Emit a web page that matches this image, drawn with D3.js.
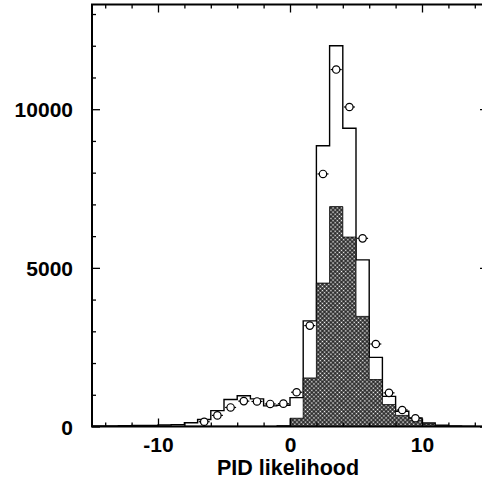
<!DOCTYPE html>
<html>
<head>
<meta charset="utf-8">
<script src="https://cdn.jsdelivr.net/npm/d3@7"></script>
<style>
  html, body { margin: 0; padding: 0; background: #fff; }
  svg { display: block; }
  text { font-family: "Liberation Sans", Arial, sans-serif; font-weight: bold; }
</style>
</head>
<body>
<svg id="chart" width="482" height="481"></svg>
<script>
// bin left edges (bin width 1)
const binLeft = [-15,-14,-13,-12,-11,-10,-9,-8,-7,-6,-5,-4,-3,-2,-1,0,1,2,3,4,5,6,7,8,9,10,11,12,13,14];
// total MC (open histogram)
const totalMC = [20,20,25,30,35,45,60,120,220,500,850,970,870,650,670,910,3330,8850,12000,9400,5250,2180,950,480,270,110,40,20,10,5];
// signal MC (hatched histogram)
const signalMC = [0,0,0,0,5,10,10,10,10,10,10,10,10,10,30,260,1530,4520,6930,5970,3470,1480,690,350,200,80,20,5,0,0];
// data points
const dataX = [-6.5,-5.5,-4.5,-3.5,-2.5,-1.5,-0.5,0.5,1.5,2.5,3.5,4.5,5.5,6.5,7.5,8.5,9.5];
const dataY = [150,350,600,800,790,710,720,1080,3180,7960,11250,10070,5930,2600,1060,520,260];
// ticks
const xMajor = [-10, 0, 10];
const xMinor = [-14,-12,-8,-6,-4,-2,2,4,6,8,12,14];
const yMajor = [0, 5000, 10000];
const yMinor = [1000,2000,3000,4000,6000,7000,8000,9000,11000,12000,13000];
const xTitle = "PID likelihood";

const svg = d3.select("#chart");
const x = d3.scaleLinear().domain([-15, 15]).range([92, 488]);
const y = d3.scaleLinear().domain([0, 13300]).range([426.5, 4.5]);

// hatch pattern
const defs = svg.append("defs");
const pat = defs.append("pattern").attr("id", "hatch")
  .attr("patternUnits", "userSpaceOnUse").attr("width", 3).attr("height", 3)
  .attr("patternTransform", "rotate(45)");
pat.append("rect").attr("width", 3).attr("height", 3).attr("fill", "#1a1a1a");
pat.append("rect").attr("x", 0.7).attr("y", 0.7).attr("width", 1.6).attr("height", 1.6).attr("fill", "#fff");

function stepPath(vals) {
  const pts = [];
  pts.push([x(binLeft[0]), y(0)]);
  binLeft.forEach((b, i) => {
    pts.push([x(b), y(vals[i])]);
    pts.push([x(b + 1), y(vals[i])]);
  });
  pts.push([x(binLeft[binLeft.length - 1] + 1), y(0)]);
  return d3.line()(pts);
}

// open histogram
svg.append("path").attr("d", stepPath(totalMC))
  .attr("fill", "#fff").attr("stroke", "#000").attr("stroke-width", 1.4);
// hatched
svg.append("path").attr("d", stepPath(signalMC))
  .attr("fill", "url(#hatch)").attr("stroke", "#000").attr("stroke-width", 0.8);

// data points
const pts = svg.append("g");
dataX.forEach((dx, i) => {
  pts.append("line").attr("x1", x(dx) - 5.5).attr("x2", x(dx) + 5.5)
    .attr("y1", y(dataY[i])).attr("y2", y(dataY[i]))
    .attr("stroke", "#000").attr("stroke-width", 1.2);
  pts.append("circle").attr("cx", x(dx)).attr("cy", y(dataY[i])).attr("r", 3.7)
    .attr("fill", "#fff").attr("stroke", "#000").attr("stroke-width", 1.2);
});

// frame
const x0 = x.range()[0], x1 = x.range()[1], y0 = y.range()[0], y1 = y.range()[1];
svg.append("rect").attr("x", x0).attr("y", y1).attr("width", x1 - x0).attr("height", y0 - y1)
  .attr("fill", "none").attr("stroke", "#000").attr("stroke-width", 2);

const fmt = d => String(d);
// axes via d3 axis generators (ticks inward)
const bottomMajor = d3.axisBottom(x).tickValues(xMajor).tickSize(-8).tickFormat(fmt).tickPadding(14);
const gB = svg.append("g").attr("transform", `translate(0,${y0})`).call(bottomMajor);
const bottomMinor = d3.axisBottom(x).tickValues(xMinor).tickSize(-4).tickFormat("");
svg.append("g").attr("transform", `translate(0,${y0})`).call(bottomMinor);
svg.append("g").attr("transform", `translate(0,${y1})`).call(d3.axisTop(x).tickValues(xMajor).tickSize(-8).tickFormat(""));
svg.append("g").attr("transform", `translate(0,${y1})`).call(d3.axisTop(x).tickValues(xMinor).tickSize(-4).tickFormat(""));

const gL = svg.append("g").attr("transform", `translate(${x0},0)`)
  .call(d3.axisLeft(y).tickValues(yMajor).tickSize(-8).tickFormat(fmt).tickPadding(19));
svg.append("g").attr("transform", `translate(${x0},0)`)
  .call(d3.axisLeft(y).tickValues(yMinor).tickSize(-4).tickFormat(""));
svg.append("g").attr("transform", `translate(${x1},0)`)
  .call(d3.axisRight(y).tickValues(yMajor).tickSize(-8).tickFormat(""));
svg.append("g").attr("transform", `translate(${x1},0)`)
  .call(d3.axisRight(y).tickValues(yMinor).tickSize(-4).tickFormat(""));

svg.selectAll(".domain").remove();
svg.selectAll(".tick line").attr("stroke", "#000").attr("stroke-width", 1.3);
svg.selectAll(".tick text").attr("font-family", "'Liberation Sans', Arial, sans-serif")
  .attr("font-weight", "bold").attr("font-size", 21).attr("fill", "#000");
gB.selectAll(".tick text").attr("dy", null).attr("y", 25.5).attr("dominant-baseline", "alphabetic");
gL.selectAll(".tick text").attr("dy", "0.36em");

svg.append("text").attr("x", 288).attr("y", 475).attr("text-anchor", "middle")
  .attr("font-size", 21.5).attr("fill", "#000").text(xTitle);
</script>
</body>
</html>
